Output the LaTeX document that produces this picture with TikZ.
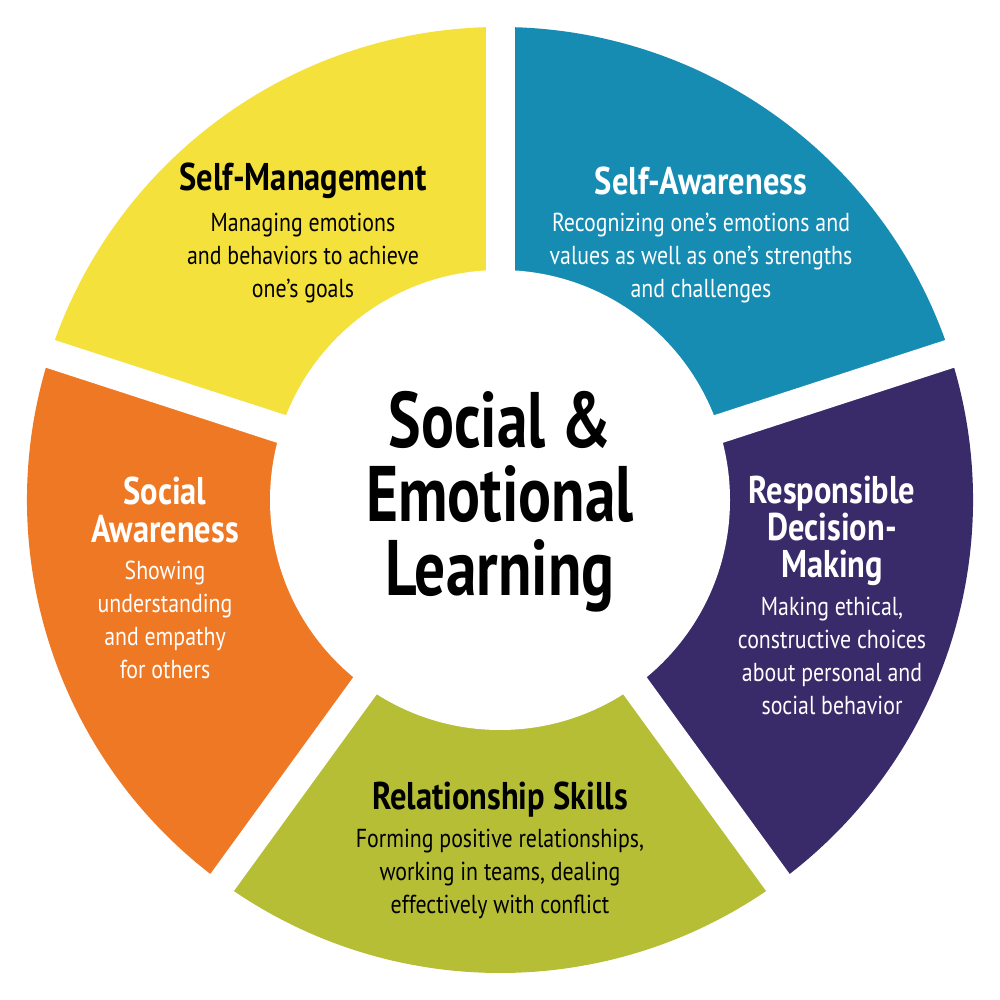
\documentclass[tikz,border=0pt]{standalone}
\usepackage{fontspec}
\setmainfont{PT Sans}[FakeStretch=0.84]
\newfontfamily\titlefont{PT Sans}[FakeStretch=0.78]
\definecolor{selfman}{HTML}{F5E13C}
\definecolor{selfaw}{HTML}{168CB2}
\definecolor{decis}{HTML}{392B6A}
\definecolor{relsk}{HTML}{B5BE34}
\definecolor{socaw}{HTML}{EE7824}
\begin{document}
\begin{tikzpicture}[line join=round,
	head/.style={font=\fontsize{11}{10.6}\selectfont\bfseries, align=center, inner sep=0pt},
	body/.style={font=\fontsize{7.4}{9.4}\selectfont, align=center, inner sep=0pt}]
	\useasboundingbox (-5,-5) rectangle (5,5);
	% ring
	\fill[selfaw] (0,0)--(18:4.73) arc (18:90:4.73)--cycle;
	\fill[selfman] (0,0)--(90:4.73) arc (90:162:4.73)--cycle;
	\fill[socaw] (0,0)--(162:4.73) arc (162:234:4.73)--cycle;
	\fill[relsk] (0,0)--(234:4.73) arc (234:306:4.73)--cycle;
	\fill[decis] (0,0)--(306:4.73) arc (306:378:4.73)--cycle;
	\foreach \a in {90,18,-54,-126,162}
		\draw[white, line width=2.9mm] (0,0)--(\a:5);
	\fill[white] (0,0) circle (2.30);
	%===
	\node[font=\fontsize{22.4}{21}\titlefont\bfseries, align=center, inner sep=0pt] (sel) at (0,-0.02) {Social \&\\Emotional\\Learning};
	\node[head] (smh) at (-1.97,3.19) {Self-Management};
	\node[body] (smb) at (-1.97,2.42) {Managing emotions\\and behaviors to achieve\\one’s goals};
	\node[head, white] (sah) at (2.01,3.19) {Self-Awareness};
	\node[body, white] (sab) at (2.01,2.42) {Recognizing one’s emotions and\\values as well as one’s strengths\\and challenges};
	\node[head, white] (rdh) at (3.32,-0.31) {Responsible\\Decision-\\Making};
	\node[body, white] (rdb) at (3.32,-1.56) {Making ethical,\\constructive choices\\about personal and\\social behavior};
	\node[head] (rsh) at (0,-3.00) {Relationship Skills};
	\node[body] (rsb) at (0,-3.74) {Forming positive relationships,\\working in teams, dealing\\effectively with conflict};
	\node[head, white] (soh) at (-3.35,-0.10) {Social\\Awareness};
	\node[body, white] (sob) at (-3.35,-1.20) {Showing\\understanding\\and empathy\\for others};
\end{tikzpicture}
\end{document}
